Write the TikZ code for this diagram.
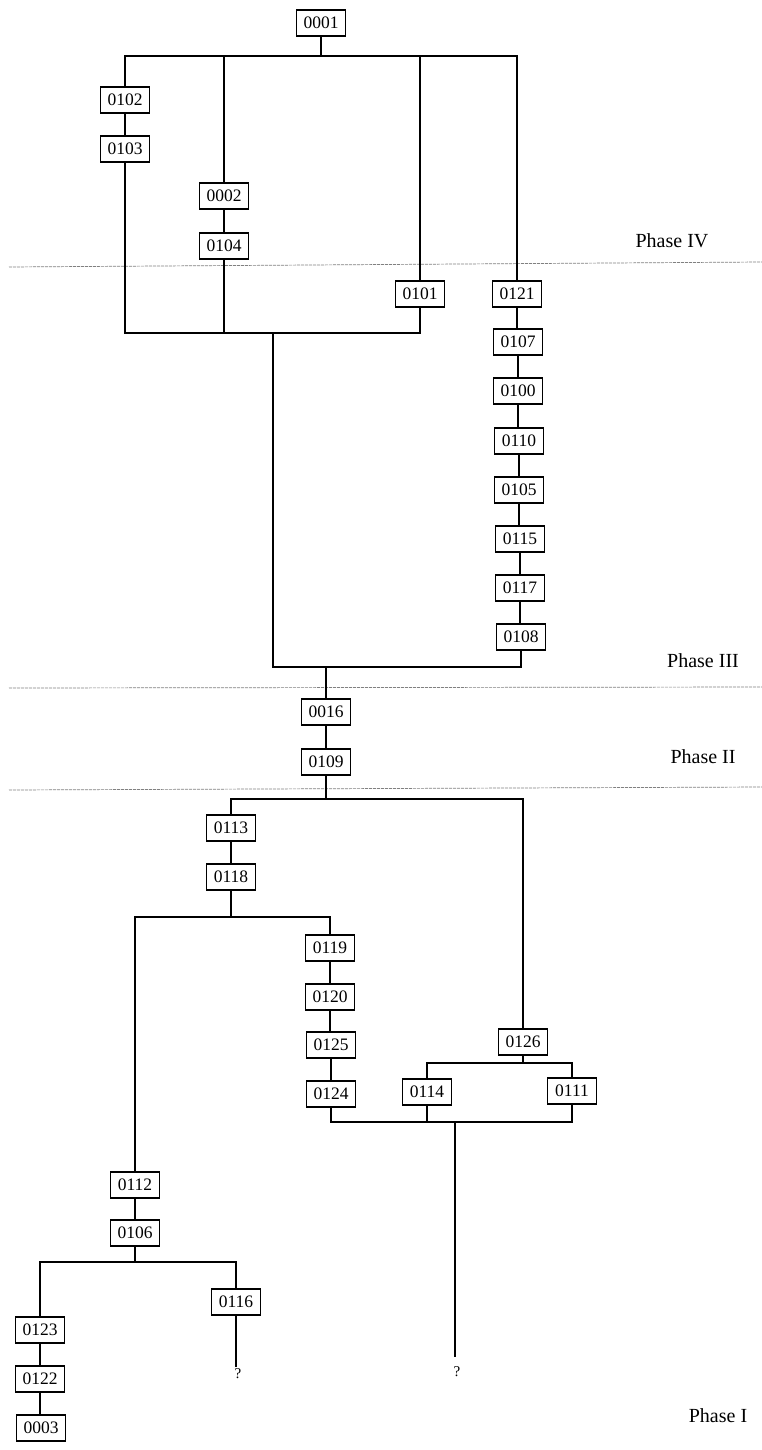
\documentclass[tikz,border=0pt]{standalone}
\usepackage{fontspec}
\setmainfont{Liberation Serif}
\begin{document}
\begin{tikzpicture}[x=1pt,y=-1pt,
  box/.style={draw,line width=1.5pt,fill=white,minimum width=49pt,minimum height=26pt,inner sep=0pt,font=\fontsize{17.5}{19}\selectfont},
  conn/.style={line width=1.7pt},
  phaseline/.style={line width=0.7pt,gray,dash pattern=on 3pt off 1pt},
  phase/.style={font=\fontsize{20}{23}\selectfont,inner sep=0pt},
  qmark/.style={font=\fontsize{15}{17}\selectfont,inner sep=2pt}]
\useasboundingbox (0,0) rectangle (762,1450);
\fill[white] (0,0) rectangle (762,1450);

% phase separators
\draw[phaseline] (9,267) -- (762,262);
\draw[phaseline] (9,688) -- (762,687);
\draw[phaseline] (9,790) -- (762,787);

% phase labels
\node[phase] (pIV) at (672,241) {Phase IV};
\node[phase] (pIII) at (703,661) {Phase III};
\node[phase] (pII) at (703,757) {Phase II};
\node[phase] (pI) at (718,1416) {Phase I};

% bar levels
\coordinate (tb) at (0,56);
\coordinate (lb) at (0,333);
\coordinate (j1) at (273,333);
\coordinate (j2) at (273,667);
\coordinate (b2) at (0,799);
\coordinate (b3) at (0,917);
\coordinate (b4) at (0,1063);
\coordinate (b5) at (0,1122);
\coordinate (b6) at (0,1262);
\coordinate (q2top) at (455,1122);

% nodes
\node[box] (n0001) at (321,23) {0001};
\node[box] (n0102) at (125,100) {0102};
\node[box] (n0103) at (125,149) {0103};
\node[box] (n0002) at (224,196) {0002};
\node[box] (n0104) at (224,246) {0104};
\node[box] (n0101) at (420,294) {0101};
\node[box] (n0121) at (517,294) {0121};
\node[box] (n0107) at (518,342) {0107};
\node[box] (n0100) at (518,391) {0100};
\node[box] (n0110) at (519,441) {0110};
\node[box] (n0105) at (519,490) {0105};
\node[box] (n0115) at (520,539) {0115};
\node[box] (n0117) at (520,588) {0117};
\node[box] (n0108) at (521,637) {0108};
\node[box] (n0016) at (326,712) {0016};
\node[box] (n0109) at (326,762) {0109};
\node[box] (n0113) at (231,828) {0113};
\node[box] (n0118) at (231,877) {0118};
\node[box] (n0119) at (330,948) {0119};
\node[box] (n0120) at (330,997) {0120};
\node[box] (n0125) at (331,1045) {0125};
\node[box] (n0124) at (331,1094) {0124};
\node[box] (n0126) at (523,1042) {0126};
\node[box] (n0114) at (427,1092) {0114};
\node[box] (n0111) at (572,1091) {0111};
\node[box] (n0112) at (135,1185) {0112};
\node[box] (n0106) at (135,1233) {0106};
\node[box] (n0116) at (236,1302) {0116};
\node[box] (n0123) at (40,1330) {0123};
\node[box] (n0122) at (40,1379) {0122};
\node[box] (n0003) at (41,1428) {0003};
\node[qmark] (q1) at (238,1374) {?};
\node[qmark] (q2) at (457,1372) {?};

\begin{scope}[conn]
% Phase IV
\draw (n0001.south) -- (n0001.south |- tb);
\draw (n0102.north) -- (n0102.north |- tb) -- (n0121.north |- tb) -- (n0121.north);
\draw (n0002.north) -- (n0002.north |- tb);
\draw (n0101.north) -- (n0101.north |- tb);
\draw (n0102.south) -- (n0102.south |- n0103.north);
\draw (n0002.south) -- (n0002.south |- n0104.north);
\draw (n0103.south) -- (n0103.south |- lb) -- (n0101.south |- lb) -- (n0101.south);
\draw (n0104.south) -- (n0104.south |- lb);
% Phase III
\draw (n0121.south) -- (n0121.south |- n0107.north);
\draw (n0107.south) -- (n0107.south |- n0100.north);
\draw (n0100.south) -- (n0100.south |- n0110.north);
\draw (n0110.south) -- (n0110.south |- n0105.north);
\draw (n0105.south) -- (n0105.south |- n0115.north);
\draw (n0115.south) -- (n0115.south |- n0117.north);
\draw (n0117.south) -- (n0117.south |- n0108.north);
\draw (j1) -- (j2) -- (n0108.south |- j2) -- (n0108.south);
% Phase II
\draw (n0016.north |- j2) -- (n0016.north);
\draw (n0016.south) -- (n0109.north);
\draw (n0109.south) -- (n0109.south |- b2);
% Phase I
\draw (n0113.north) -- (n0113.north |- b2) -- (n0126.north |- b2) -- (n0126.north);
\draw (n0113.south) -- (n0118.north);
\draw (n0118.south) -- (n0118.south |- b3);
\draw (n0112.north) -- (n0112.north |- b3) -- (n0119.north |- b3) -- (n0119.north);
\draw (n0119.south) -- (n0120.north);
\draw (n0120.south) -- (n0120.south |- n0125.north);
\draw (n0125.south) -- (n0124.north);
\draw (n0126.south) -- (n0126.south |- b4);
\draw (n0114.north) -- (n0114.north |- b4) -- (n0111.north |- b4) -- (n0111.north);
\draw (n0124.south) -- (n0124.south |- b5) -- (n0111.south |- b5) -- (n0111.south);
\draw (n0114.south) -- (n0114.south |- b5);
\draw[shorten >=8pt] (q2top) -- (q2top |- q2.north);
\draw (n0112.south) -- (n0106.north);
\draw (n0106.south) -- (n0106.south |- b6);
\draw (n0123.north) -- (n0123.north |- b6) -- (n0116.north |- b6) -- (n0116.north);
\draw (n0123.south) -- (n0122.north);
\draw (n0122.south) -- (n0122.south |- n0003.north);
\draw (n0116.south) -- (n0116.south |- q1.north);
\end{scope}
\end{tikzpicture}
\end{document}
